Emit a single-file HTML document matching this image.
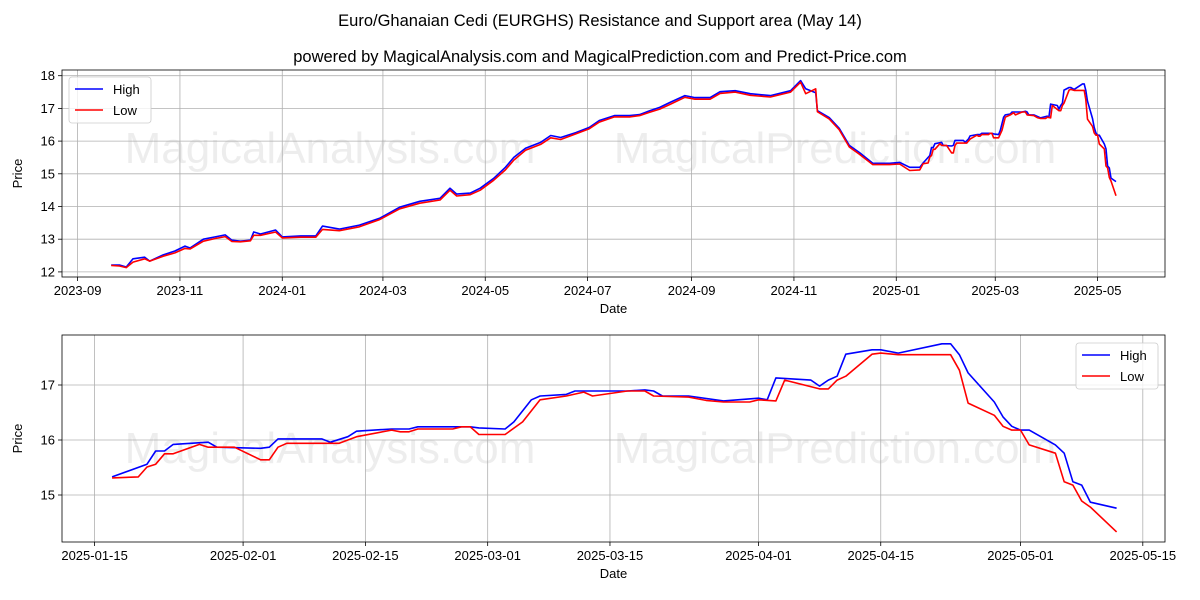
<!DOCTYPE html>
<html><head><meta charset="utf-8">
<style>
body{margin:0;background:#fff;}
svg{display:block;font-family:"Liberation Sans","DejaVu Sans",sans-serif;}
</style></head>
<body>
<svg id="chart" width="1200" height="600" viewBox="0 0 1200 600" xmlns="http://www.w3.org/2000/svg">
<rect width="1200" height="600" fill="#fff"/>
<text x="600" y="26" text-anchor="middle" font-size="16.5">Euro/Ghanaian Cedi (EURGHS) Resistance and Support area (May 14)</text>
<text x="600" y="62" text-anchor="middle" font-size="16.5">powered by MagicalAnalysis.com and MagicalPrediction.com and Predict-Price.com</text>
<g id="top"></g>
<g id="bot"></g>
</svg>
<script>
// ===== Data =====
// Top panel: days since 2023-09-01 (early history)
const topEarlyDays = [20,25,29,33,40,43,51,58,64,67,75,82,88,92,97,103,105,109,118,122,133,142,146,156,168,180,192,204,216,222,226,234,240,248,255,260,267,276,282,288,297,305,311,320,329,335,341,347,353,362,368,377,383,392,401,413,425,431,434,440,441,448,454,460,466,474,484,490,496,502];
const topEarlyHigh = [12.21,12.21,12.15,12.4,12.45,12.33,12.52,12.64,12.79,12.73,13.0,13.07,13.13,12.97,12.94,12.97,13.22,13.16,13.28,13.07,13.1,13.1,13.4,13.31,13.43,13.64,13.98,14.16,14.25,14.56,14.38,14.41,14.56,14.86,15.2,15.5,15.78,15.96,16.17,16.11,16.26,16.42,16.63,16.78,16.78,16.81,16.93,17.03,17.18,17.39,17.33,17.33,17.51,17.54,17.45,17.39,17.54,17.85,17.6,17.48,16.93,16.72,16.39,15.87,15.65,15.32,15.32,15.35,15.2,15.2];
const topEarlyLow = [12.2,12.18,12.13,12.3,12.4,12.33,12.48,12.58,12.72,12.7,12.94,13.02,13.08,12.93,12.92,12.95,13.12,13.12,13.22,13.04,13.06,13.06,13.3,13.26,13.38,13.6,13.93,14.1,14.2,14.5,14.32,14.36,14.5,14.8,15.12,15.42,15.72,15.9,16.1,16.05,16.22,16.38,16.58,16.74,16.74,16.78,16.88,16.98,17.12,17.34,17.28,17.28,17.46,17.5,17.4,17.35,17.5,17.8,17.45,17.6,16.9,16.68,16.35,15.82,15.6,15.28,15.28,15.3,15.1,15.12];
// Bottom panel: days since 2025-01-01
const highDays = [16,20,21,22,23,27,28,33,34,35,40,41,43,44,48,50,51,57,58,61,62,64,65,68,69,75,77,78,79,82,86,90,91,92,96,97,98,99,100,103,104,106,111,112,113,114,117,118,119,120,121,124,125,126,127,128,131];
const highVals = [15.33,15.56,15.8,15.8,15.92,15.96,15.87,15.85,15.87,16.02,16.02,15.96,16.06,16.16,16.2,16.2,16.24,16.24,16.22,16.2,16.33,16.73,16.8,16.83,16.89,16.89,16.91,16.89,16.8,16.8,16.71,16.76,16.73,17.13,17.09,16.98,17.09,17.16,17.56,17.64,17.64,17.58,17.75,17.75,17.55,17.22,16.69,16.42,16.25,16.18,16.18,15.91,15.76,15.24,15.18,14.87,14.76];
const lowDays = [16,19,20,21,22,23,26,27,30,33,34,35,36,42,44,48,49,50,51,55,56,57,58,61,63,65,68,70,71,75,77,78,82,84,86,89,90,92,93,97,98,99,100,103,104,106,112,113,114,117,118,119,120,121,124,125,126,127,128,131];
const lowVals = [15.31,15.33,15.51,15.56,15.75,15.75,15.92,15.87,15.87,15.64,15.64,15.87,15.94,15.94,16.06,16.18,16.15,16.15,16.2,16.2,16.24,16.24,16.1,16.1,16.33,16.73,16.8,16.87,16.8,16.89,16.89,16.8,16.78,16.72,16.69,16.69,16.73,16.71,17.09,16.93,16.93,17.09,17.16,17.56,17.58,17.55,17.55,17.27,16.67,16.45,16.25,16.18,16.18,15.91,15.76,15.24,15.18,14.89,14.78,14.33];
const topTickLabels = ["2023-09","2023-11","2024-01","2024-03","2024-05","2024-07","2024-09","2024-11","2025-01","2025-03","2025-05"];
const topTickDays = [0,61,122,182,243,304,366,427,488,547,608];
const topYTicks = [12,13,14,15,16,17,18];
const botTickLabels = ["2025-01-15","2025-02-01","2025-02-15","2025-03-01","2025-03-15","2025-04-01","2025-04-15","2025-05-01","2025-05-15"];
const botTickDays = [14,31,45,59,73,90,104,120,134];
const botYTicks = [15,16,17];
const yearOffset = 488; // 2025-01-01 in top-panel day units

const NS="http://www.w3.org/2000/svg";
function mk(parent,tag,attrs,text){const e=document.createElementNS(NS,tag);for(const k in attrs)e.setAttribute(k,attrs[k]);if(text!==undefined)e.textContent=text;parent.appendChild(e);return e;}

function panel(g,box,xs,ys,xTickDays,xTickLabels,yTicks,series,wm,legendBox){
  const [L,T,R,B]=box;
  mk(g,'rect',{x:L,y:T,width:R-L,height:B-T,fill:'#fff'});
  // watermarks
  wm.forEach(w=>{const t=mk(g,'text',{x:w[0],y:w[1],'text-anchor':'middle','font-size':44,fill:'#000','fill-opacity':0.07},w[2]);
    
    });
  xTickDays.forEach((d,i)=>{const x=xs(d);
    const l=mk(g,'line',{x1:x,x2:x,y1:T,y2:B,stroke:'#b0b0b0','stroke-width':0.8});
    
    
    mk(g,'line',{x1:x,x2:x,y1:B,y2:B+4,stroke:'#000','stroke-width':0.8});
    const t=mk(g,'text',{x:x,y:B+18,'text-anchor':'middle','font-size':13},xTickLabels[i]);
    
    });
  yTicks.forEach(v=>{const y=ys(v);
    const l=mk(g,'line',{x1:L,x2:R,y1:y,y2:y,stroke:'#b0b0b0','stroke-width':0.8});
    
    
    mk(g,'line',{x1:L-4,x2:L,y1:y,y2:y,stroke:'#000','stroke-width':0.8});
    const t=mk(g,'text',{x:L-7,y:y+4.5,'text-anchor':'end','font-size':13},String(v));
    
    });
  series.forEach(s=>{const pts=s.d.map((d,i)=>xs(d).toFixed(1)+','+ys(s.v[i]).toFixed(1)).join(' ');
    const p=mk(g,'polyline',{points:pts,fill:'none',stroke:s.c,'stroke-width':1.6,'stroke-linejoin':'round'});
    
    });
  mk(g,'rect',{x:L,y:T,width:R-L,height:B-T,fill:'none',stroke:'#000','stroke-width':0.8});
  const xl=mk(g,'text',{x:(L+R)/2,y:B+36,'text-anchor':'middle','font-size':13},'Date');
  
  
  const yl=mk(g,'text',{x:0,y:0,'text-anchor':'middle','font-size':13,transform:`translate(${L-40},${(T+B)/2}) rotate(-90)`},'Price');
  
  
  const [lx,ly]=legendBox;
  const lg=mk(g,'g',{});
  
  
  mk(lg,'rect',{x:lx,y:ly,width:82,height:46,rx:3,fill:'#fff','fill-opacity':0.8,stroke:'#ccc','stroke-width':0.8});
  [['High','#0000ff'],['Low','#ff0000']].forEach((e,i)=>{const yy=ly+12+i*21;
    const le=mk(lg,'g',{});
    
    
    mk(le,'line',{x1:lx+6,x2:lx+34,y1:yy,y2:yy,stroke:e[1],'stroke-width':1.6});
    mk(le,'text',{x:lx+44,y:yy+5,'font-size':13},e[0]);});
}

// Top panel
const tL=62,tT=70,tR=1165,tB=277;
const txs=d=>77.6+d*1.6776;
const tys=v=>75.7-(v-18)*32.7;
const topHighDays=topEarlyDays.concat(highDays.map(d=>d+yearOffset));
const topHighVals=topEarlyHigh.concat(highVals);
const topLowDays=topEarlyDays.concat(lowDays.map(d=>d+yearOffset));
const topLowVals=topEarlyLow.concat(lowVals);
panel(document.getElementById('top'),[tL,tT,tR,tB],txs,tys,topTickDays,topTickLabels,topYTicks,
  [{d:topHighDays,v:topHighVals,c:'#0000ff',n:'top-high-line'},{d:topLowDays,v:topLowVals,c:'#ff0000',n:'top-low-line'}],
  [[330,163,'MagicalAnalysis.com'],[835,163,'MagicalPrediction.com']],[69,77]);

// Bottom panel
const bL=62,bT=335,bR=1165,bB=542;
const bxs=d=>94.6+(d-14)*8.735;
const bys=v=>385-(v-17)*55;
panel(document.getElementById('bot'),[bL,bT,bR,bB],bxs,bys,botTickDays,botTickLabels,botYTicks,
  [{d:highDays,v:highVals,c:'#0000ff',n:'bottom-high-line'},{d:lowDays,v:lowVals,c:'#ff0000',n:'bottom-low-line'}],
  [[330,463,'MagicalAnalysis.com'],[835,463,'MagicalPrediction.com']],[1076,343]);
</script>
</body></html>
